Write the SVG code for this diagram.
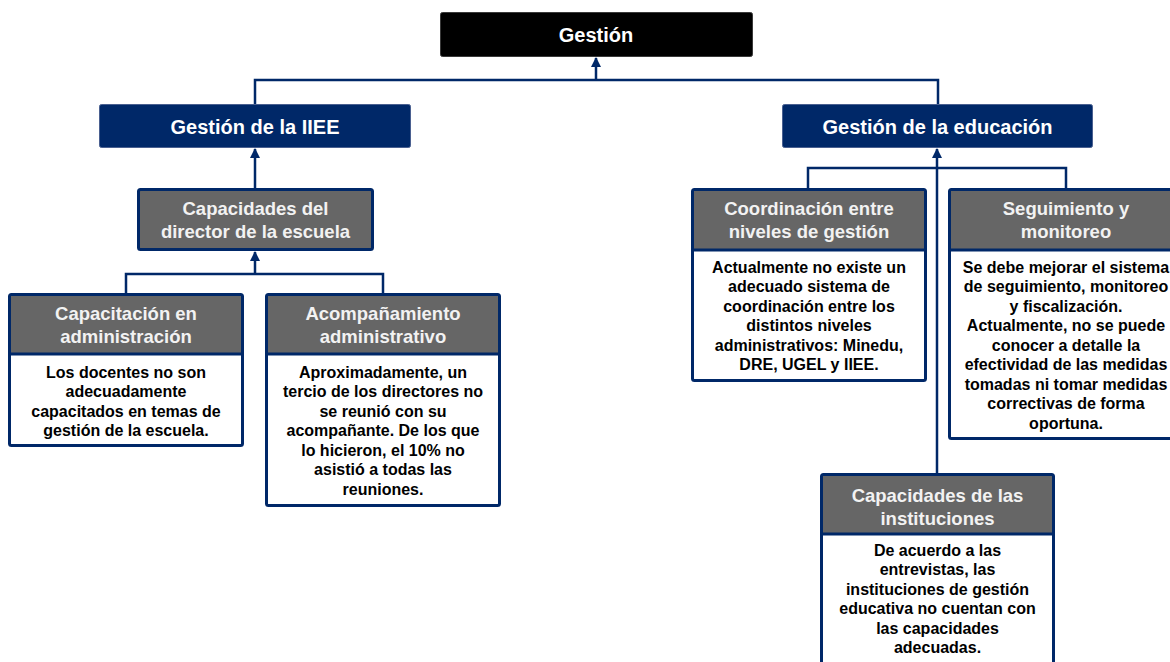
<svg xmlns="http://www.w3.org/2000/svg" width="1170" height="662" viewBox="0 0 1170 662">
<style>
  .bg{fill:#ffffff}
  .top{fill:#000000;stroke:#3a3a3a;stroke-width:1}
  .lvl1{fill:#002868;stroke:#4a6090;stroke-width:1}
  .frame{fill:#ffffff;stroke:#002868;stroke-width:3}
  .head{fill:#666666}
  .grayonly{fill:#666666;stroke:#002868;stroke-width:3}
  .div{stroke:#002868;stroke-width:3}
  .t{font-family:"Liberation Sans",Arial,sans-serif;font-weight:bold;text-anchor:middle}
  .t1{font-size:20px;fill:#ffffff}
  .th{font-size:18.5px;fill:#f2f2f2}
  .tb{font-size:16px;fill:#000000}
  .conn{fill:none;stroke:#002868;stroke-width:2.5}
</style>
<defs>
  <marker id="arr" viewBox="0 0 10 10" refX="9" refY="5" markerWidth="10" markerHeight="10" markerUnits="userSpaceOnUse" orient="auto">
    <path d="M0,0 L10,5 L0,10 z" fill="#002868"/>
  </marker>
</defs>
<rect class="bg" x="0" y="0" width="1170" height="662"/>

<g id="connectors">
  <path class="conn" d="M255,104 V80 H938 V104"/>
  <path class="conn" d="M596,80 V58" marker-end="url(#arr)"/>
  <path class="conn" d="M255,188 V149" marker-end="url(#arr)"/>
  <path class="conn" d="M126,293 V274 H383 V293"/>
  <path class="conn" d="M255,274 V252" marker-end="url(#arr)"/>
  <path class="conn" d="M808,188 V168 H1066 V188"/>
  <path class="conn" d="M937,473 V149" marker-end="url(#arr)"/>
</g>

<g id="gestion">
  <rect class="top" x="440.5" y="12.5" width="312" height="44" rx="2"/>
  <text class="t t1" x="596" y="42">Gestión</text>
</g>

<g id="gestion-iiee">
  <rect class="lvl1" x="99.5" y="104.5" width="311" height="43" rx="2"/>
  <text class="t t1" x="255" y="134">Gestión de la IIEE</text>
</g>

<g id="gestion-educacion">
  <rect class="lvl1" x="782.5" y="104.5" width="310" height="43" rx="2"/>
  <text class="t t1" x="937.5" y="134">Gestión de la educación</text>
</g>

<g id="capacidades-director">
  <rect class="grayonly" x="138.5" y="189.5" width="234" height="60" rx="2"/>
  <text class="t th" x="255.5" y="214.5">Capacidades del</text>
  <text class="t th" x="255.5" y="237.5">director de la escuela</text>
</g>

<g id="capacitacion">
  <rect class="frame" x="9.5" y="294.5" width="233" height="151" rx="2"/>
  <rect class="head" x="11" y="296" width="230" height="57"/>
  <line class="div" x1="9.5" y1="354" x2="242.5" y2="354"/>
  <text class="t th" x="126" y="319.5">Capacitación en</text>
  <text class="t th" x="126" y="342.5">administración</text>
  <text class="t tb" x="126" y="377.5">Los docentes no son</text>
  <text class="t tb" x="126" y="397">adecuadamente</text>
  <text class="t tb" x="126" y="416.5">capacitados en temas de</text>
  <text class="t tb" x="126" y="436">gestión de la escuela.</text>
</g>

<g id="acompanamiento">
  <rect class="frame" x="266.5" y="294.5" width="233" height="211" rx="2"/>
  <rect class="head" x="268" y="296" width="230" height="57"/>
  <line class="div" x1="266.5" y1="354" x2="499.5" y2="354"/>
  <text class="t th" x="383" y="319.5">Acompañamiento</text>
  <text class="t th" x="383" y="342.5">administrativo</text>
  <text class="t tb" x="383" y="377.5">Aproximadamente, un</text>
  <text class="t tb" x="383" y="397">tercio de los directores no</text>
  <text class="t tb" x="383" y="416.5">se reunió con su</text>
  <text class="t tb" x="383" y="436">acompañante. De los que</text>
  <text class="t tb" x="383" y="455.5">lo hicieron, el 10% no</text>
  <text class="t tb" x="383" y="475">asistió a todas las</text>
  <text class="t tb" x="383" y="494.5">reuniones.</text>
</g>

<g id="coordinacion">
  <rect class="frame" x="692.5" y="189.5" width="233" height="191" rx="2"/>
  <rect class="head" x="694" y="191" width="230" height="58"/>
  <line class="div" x1="692.5" y1="250" x2="925.5" y2="250"/>
  <text class="t th" x="809" y="214.5">Coordinación entre</text>
  <text class="t th" x="809" y="237.5">niveles de gestión</text>
  <text class="t tb" x="809" y="272.5">Actualmente no existe un</text>
  <text class="t tb" x="809" y="292">adecuado sistema de</text>
  <text class="t tb" x="809" y="311.5">coordinación entre los</text>
  <text class="t tb" x="809" y="331">distintos niveles</text>
  <text class="t tb" x="809" y="350.5">administrativos: Minedu,</text>
  <text class="t tb" x="809" y="370">DRE, UGEL y IIEE.</text>
</g>

<g id="seguimiento">
  <rect class="frame" x="949.5" y="189.5" width="233" height="249" rx="2"/>
  <rect class="head" x="951" y="191" width="230" height="58"/>
  <line class="div" x1="949.5" y1="250" x2="1182.5" y2="250"/>
  <text class="t th" x="1066" y="214.5">Seguimiento y</text>
  <text class="t th" x="1066" y="237.5">monitoreo</text>
  <text class="t tb" x="1066" y="272.5">Se debe mejorar el sistema</text>
  <text class="t tb" x="1066" y="292">de seguimiento, monitoreo</text>
  <text class="t tb" x="1066" y="311.5">y fiscalización.</text>
  <text class="t tb" x="1066" y="331">Actualmente, no se puede</text>
  <text class="t tb" x="1066" y="350.5">conocer a detalle la</text>
  <text class="t tb" x="1066" y="370">efectividad de las medidas</text>
  <text class="t tb" x="1066" y="389.5">tomadas ni tomar medidas</text>
  <text class="t tb" x="1066" y="409">correctivas de forma</text>
  <text class="t tb" x="1066" y="428.5">oportuna.</text>
</g>

<g id="capacidades-instituciones">
  <rect class="frame" x="821.5" y="474.5" width="232" height="200" rx="2"/>
  <rect class="head" x="823" y="476" width="229" height="57"/>
  <line class="div" x1="821.5" y1="534" x2="1053.5" y2="534"/>
  <text class="t th" x="937.5" y="501.5">Capacidades de las</text>
  <text class="t th" x="937.5" y="524.5">instituciones</text>
  <text class="t tb" x="937.5" y="555.5">De acuerdo a las</text>
  <text class="t tb" x="937.5" y="575">entrevistas, las</text>
  <text class="t tb" x="937.5" y="594.5">instituciones de gestión</text>
  <text class="t tb" x="937.5" y="614">educativa no cuentan con</text>
  <text class="t tb" x="937.5" y="633.5">las capacidades</text>
  <text class="t tb" x="937.5" y="653">adecuadas.</text>
</g>
</svg>
